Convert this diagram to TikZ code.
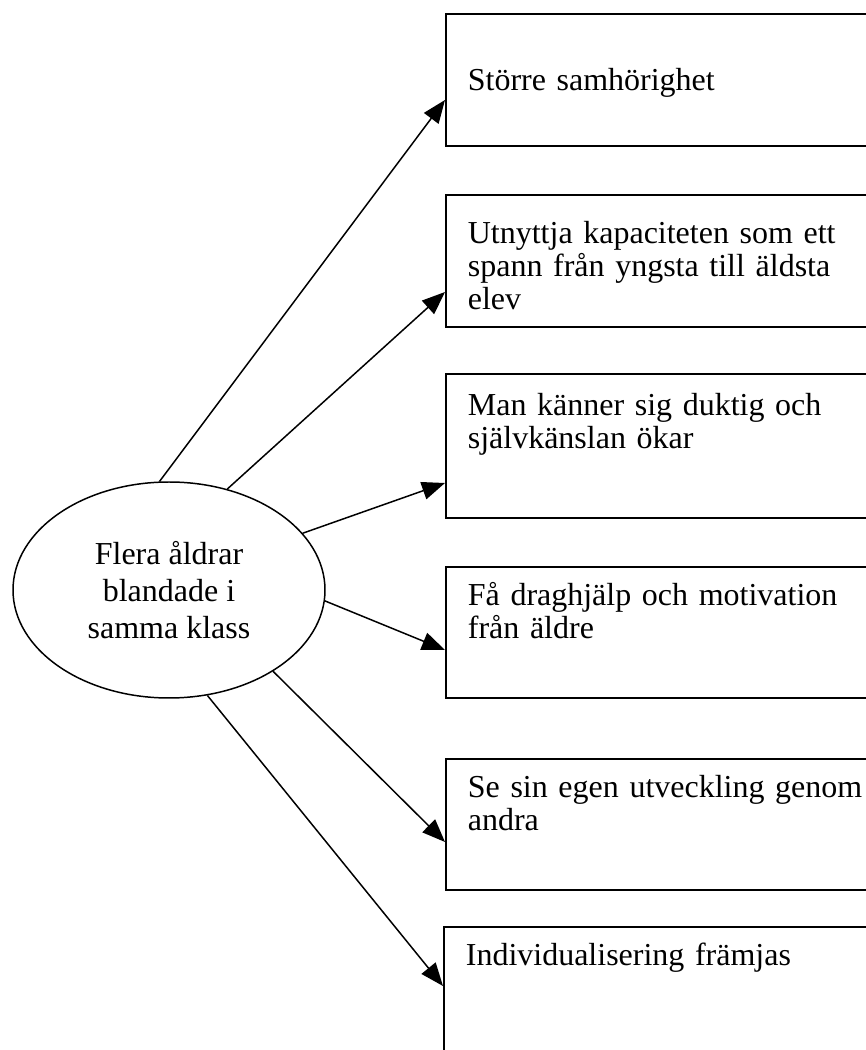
\documentclass[tikz,border=0pt]{standalone}
\usepackage{fontspec}
\setmainfont{Liberation Serif}
\usetikzlibrary{shapes.geometric,arrows.meta}

\begin{document}
\begin{tikzpicture}[
    font=\fontsize{18.2}{18.6}\selectfont,
    fleche/.style={-{Triangle[length=0.46cm,width=0.36cm]},line width=0.85pt},
    cadre/.style={draw,line width=1pt,rectangle,anchor=north west,text width=9cm,align=left,inner xsep=0.44cm,inner ysep=0pt}
]
            \useasboundingbox (0,0) rectangle (17.32,21);
            \clip (0,0) rectangle (17.32,21);
            \node[draw,ellipse,line width=0.85pt,minimum width=6.24cm,minimum height=4.32cm,inner sep=0pt,align=center,font=\fontsize{18.2}{21}\selectfont] (E) at (3.38,9.2){Flera åldrar\\blandade i\\samma klass};
            \node[cadre,text height=1.54cm,text depth=1.10cm] (B1) at (8.9,20.74){Större samhörighet};
            \node[cadre,text height=0.98cm,text depth=1.66cm] (B2) at (8.9,17.12){Utnyttja kapaciteten som ett\\spann från yngsta till äldsta\\elev};
            \node[cadre,text height=0.84cm,text depth=2.04cm] (B3) at (8.9,13.54){Man känner sig duktig och\\självkänslan ökar};
            \node[cadre,text height=0.78cm,text depth=1.84cm] (B4) at (8.9,9.68){Få draghjälp och motivation\\från äldre};
            \node[cadre,text height=0.78cm,text depth=1.84cm] (B5) at (8.9,5.84){Se sin egen utveckling genom\\andra};
            \node[cadre,text height=0.78cm,text depth=2.6cm] (B6) at (8.86,2.48){Individualisering främjas};
            \draw[fleche] (E.95.8)to([yshift=-1.74cm]B1.north west);
            \draw[fleche] (E.60.7)to([yshift=-1.96cm]B2.north west);
            \draw[fleche] (E.23.9)to([yshift=-2.2cm]B3.north west);
            \draw[fleche] (E.-4.8)to([yshift=-1.68cm]B4.north west);
            \draw[fleche] (E.-38.2)to([yshift=-1.68cm]B5.north west);
            \draw[fleche] (E.-70.9)to([yshift=-1.2cm]B6.north west);
        \end{tikzpicture}
\end{document}
